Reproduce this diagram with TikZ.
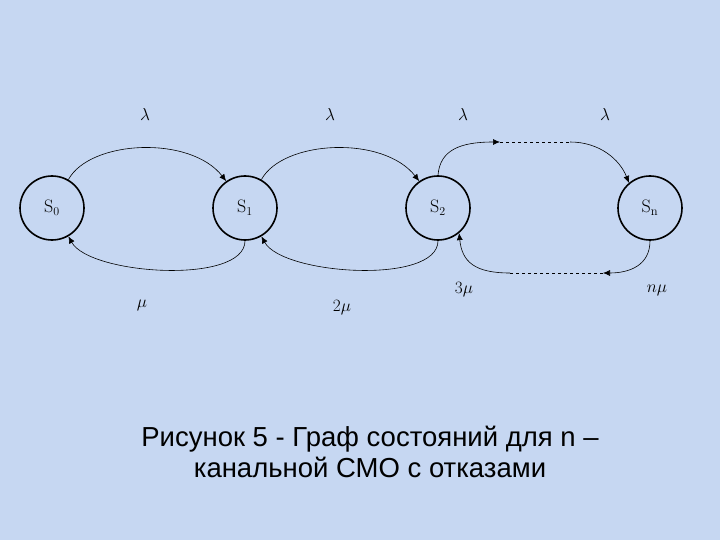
\documentclass[tikz,border=0pt]{standalone}
\usepackage{fontspec}
\newfontfamily\capfont{Liberation Sans}
\usetikzlibrary{arrows.meta}
\definecolor{bg}{RGB}{198,215,242}
\begin{document}
\begin{tikzpicture}[x=1pt,y=-1pt,
  st/.style={circle,draw,line width=1.6pt,minimum size=64pt,inner sep=0pt,font=\fontsize{18}{18}\selectfont},
  arc/.style={line width=0.6pt,-{Latex[length=7pt,width=6pt]}},
  lab/.style={font=\fontsize{18}{18}\selectfont}]
\fill[bg] (0,0) rectangle (720,540);
\useasboundingbox (0,0) rectangle (720,540);
\node[st] (s0) at (52,208) {S$_0$};
\node[st] (s1) at (245,208) {S$_1$};
\node[st] (s2) at (438,208) {S$_2$};
\node[st] (sn) at (650,208) {S$_\mathrm{n}$};
\draw[arc] (s0.60) .. controls (90,140) and (190,135) .. (s1.125);
\draw[arc] (s1.60) .. controls (283,140) and (383,135) .. (s2.125);
\draw[arc] (s1.-90) .. controls (245,285) and (90,275) .. (s0.-60);
\draw[arc] (s2.-90) .. controls (438,285) and (283,275) .. (s1.-60);
% upper dashed
\coordinate (u1) at (500,142);
\coordinate (u2) at (570,142);
\draw[arc] (s2.90) .. controls (440,150) and (460,142) .. (u1);
\draw[line width=0.6pt,dashed] (u1) -- (u2);
\draw[arc] (u2) .. controls (600,142) and (620,160) .. (sn.130);
% lower dashed
\coordinate (l1) at (603,273);
\coordinate (l2) at (510,273);
\draw[arc] (sn.-90) .. controls (650,265) and (630,273) .. (l1);
\draw[line width=0.6pt,dashed] (l1) -- (l2);
\draw[arc] (l2) .. controls (475,273) and (462,262) .. (s2.-50);
\node[lab] (l0) at (145,115) {$\lambda$};
\node[lab] (l1t) at (330,115) {$\lambda$};
\node[lab] (l2t) at (463,115) {$\lambda$};
\node[lab] (l3t) at (605,115) {$\lambda$};
\node[lab] (m1) at (142,305) {$\mu$};
\node[lab] (m2) at (342,308) {$2\mu$};
\node[lab] (m3) at (464,290) {$3\mu$};
\node[lab] (m4) at (657,290) {$n\mu$};
\node[font=\capfont\fontsize{27.5}{31}\selectfont,align=center] (cap) at (370,452) {Рисунок 5 - Граф состояний для n –\\канальной СМО с отказами};
\end{tikzpicture}
\end{document}
